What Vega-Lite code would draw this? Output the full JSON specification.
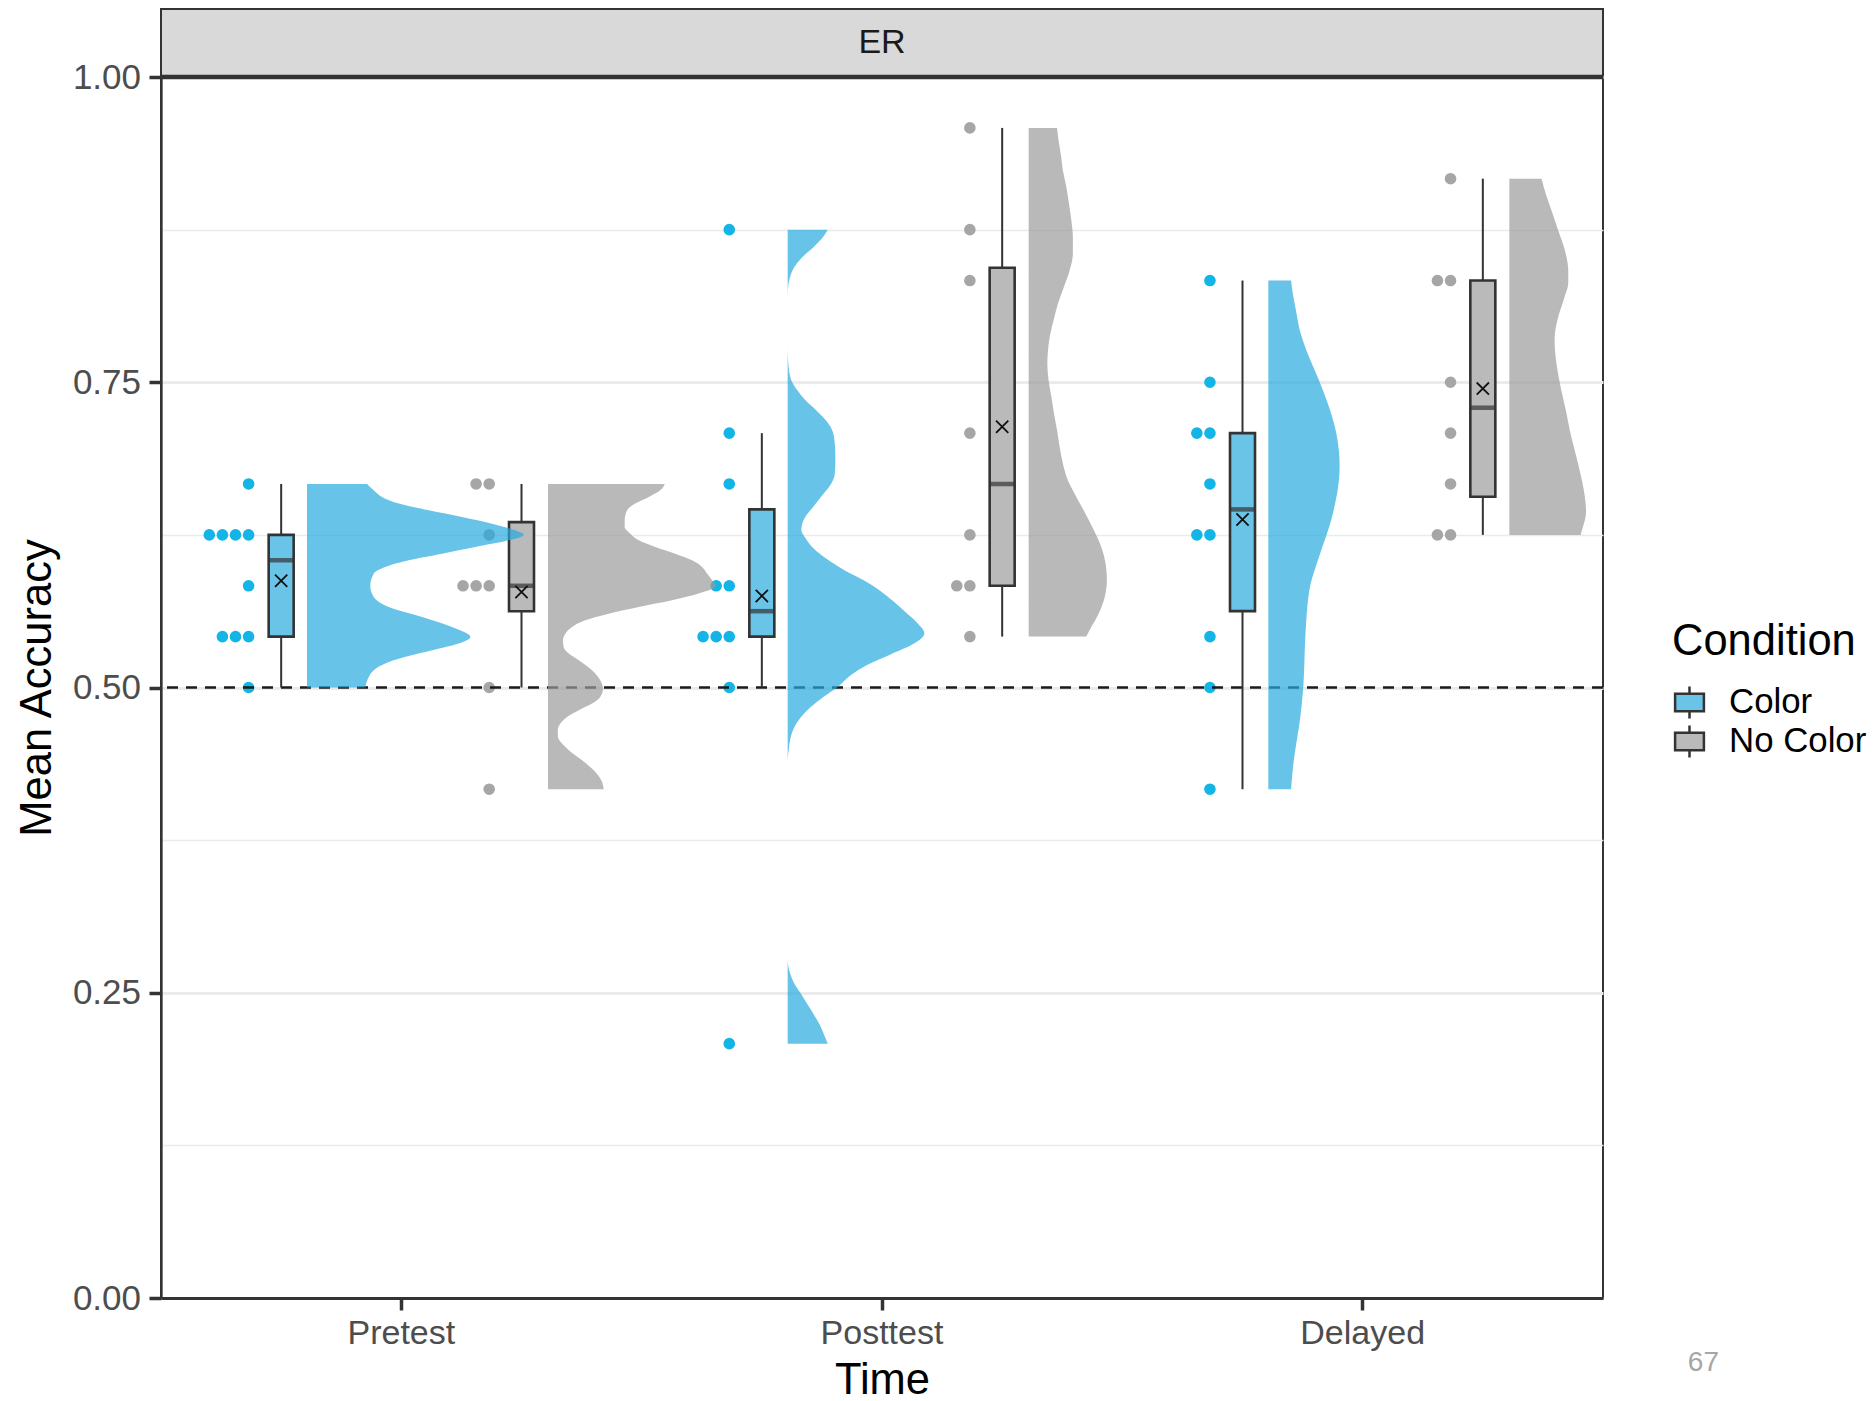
{
  "$schema": "https://vega.github.io/schema/vega-lite/v6.json",
  "background": "white",
  "padding": {"left": 14, "top": 8, "right": 6, "bottom": 0},
  "config": {"font": "Liberation Sans"},
  "title": {"text": "67", "orient": "bottom", "anchor": "end", "frame": "group", "fontSize": 28, "fontWeight": "normal", "color": "#A6A6A6", "dx": 116, "dy": -54, "offset": 0},
  "datasets": {
    "points": [
      {"Time":"Pretest","Condition":"Color","acc":0.6667},{"Time":"Pretest","Condition":"Color","acc":0.625},{"Time":"Pretest","Condition":"Color","acc":0.625},{"Time":"Pretest","Condition":"Color","acc":0.625},{"Time":"Pretest","Condition":"Color","acc":0.625},{"Time":"Pretest","Condition":"Color","acc":0.5833},{"Time":"Pretest","Condition":"Color","acc":0.5417},{"Time":"Pretest","Condition":"Color","acc":0.5417},{"Time":"Pretest","Condition":"Color","acc":0.5417},{"Time":"Pretest","Condition":"Color","acc":0.5},
      {"Time":"Pretest","Condition":"No Color","acc":0.6667},{"Time":"Pretest","Condition":"No Color","acc":0.6667},{"Time":"Pretest","Condition":"No Color","acc":0.625},{"Time":"Pretest","Condition":"No Color","acc":0.5833},{"Time":"Pretest","Condition":"No Color","acc":0.5833},{"Time":"Pretest","Condition":"No Color","acc":0.5833},{"Time":"Pretest","Condition":"No Color","acc":0.5},{"Time":"Pretest","Condition":"No Color","acc":0.4167},
      {"Time":"Posttest","Condition":"Color","acc":0.875},{"Time":"Posttest","Condition":"Color","acc":0.7083},{"Time":"Posttest","Condition":"Color","acc":0.6667},{"Time":"Posttest","Condition":"Color","acc":0.5833},{"Time":"Posttest","Condition":"Color","acc":0.5833},{"Time":"Posttest","Condition":"Color","acc":0.5417},{"Time":"Posttest","Condition":"Color","acc":0.5417},{"Time":"Posttest","Condition":"Color","acc":0.5417},{"Time":"Posttest","Condition":"Color","acc":0.5},{"Time":"Posttest","Condition":"Color","acc":0.2083},
      {"Time":"Posttest","Condition":"No Color","acc":0.9583},{"Time":"Posttest","Condition":"No Color","acc":0.875},{"Time":"Posttest","Condition":"No Color","acc":0.8333},{"Time":"Posttest","Condition":"No Color","acc":0.7083},{"Time":"Posttest","Condition":"No Color","acc":0.625},{"Time":"Posttest","Condition":"No Color","acc":0.5833},{"Time":"Posttest","Condition":"No Color","acc":0.5833},{"Time":"Posttest","Condition":"No Color","acc":0.5417},
      {"Time":"Delayed","Condition":"Color","acc":0.8333},{"Time":"Delayed","Condition":"Color","acc":0.75},{"Time":"Delayed","Condition":"Color","acc":0.7083},{"Time":"Delayed","Condition":"Color","acc":0.7083},{"Time":"Delayed","Condition":"Color","acc":0.6667},{"Time":"Delayed","Condition":"Color","acc":0.625},{"Time":"Delayed","Condition":"Color","acc":0.625},{"Time":"Delayed","Condition":"Color","acc":0.5417},{"Time":"Delayed","Condition":"Color","acc":0.5},{"Time":"Delayed","Condition":"Color","acc":0.4167},
      {"Time":"Delayed","Condition":"No Color","acc":0.9167},{"Time":"Delayed","Condition":"No Color","acc":0.8333},{"Time":"Delayed","Condition":"No Color","acc":0.8333},{"Time":"Delayed","Condition":"No Color","acc":0.75},{"Time":"Delayed","Condition":"No Color","acc":0.7083},{"Time":"Delayed","Condition":"No Color","acc":0.6667},{"Time":"Delayed","Condition":"No Color","acc":0.625},{"Time":"Delayed","Condition":"No Color","acc":0.625}
    ],
    "density": [
      {"Time":"Pretest","Condition":"Color","acc":0.6667,"dens":0.277},{"Time":"Pretest","Condition":"Color","acc":0.6615,"dens":0.308},{"Time":"Pretest","Condition":"Color","acc":0.656,"dens":0.346},{"Time":"Pretest","Condition":"Color","acc":0.6506,"dens":0.423},{"Time":"Pretest","Condition":"Color","acc":0.6451,"dens":0.562},{"Time":"Pretest","Condition":"Color","acc":0.6396,"dens":0.715},{"Time":"Pretest","Condition":"Color","acc":0.6342,"dens":0.854},{"Time":"Pretest","Condition":"Color","acc":0.6287,"dens":0.961},{"Time":"Pretest","Condition":"Color","acc":0.625,"dens":1.0},{"Time":"Pretest","Condition":"Color","acc":0.6205,"dens":0.931},{"Time":"Pretest","Condition":"Color","acc":0.6151,"dens":0.777},{"Time":"Pretest","Condition":"Color","acc":0.6096,"dens":0.623},{"Time":"Pretest","Condition":"Color","acc":0.6042,"dens":0.469},{"Time":"Pretest","Condition":"Color","acc":0.5987,"dens":0.361},{"Time":"Pretest","Condition":"Color","acc":0.5933,"dens":0.308},{"Time":"Pretest","Condition":"Color","acc":0.5829,"dens":0.292},{"Time":"Pretest","Condition":"Color","acc":0.5741,"dens":0.308},{"Time":"Pretest","Condition":"Color","acc":0.566,"dens":0.377},{"Time":"Pretest","Condition":"Color","acc":0.5578,"dens":0.531},{"Time":"Pretest","Condition":"Color","acc":0.5496,"dens":0.669},{"Time":"Pretest","Condition":"Color","acc":0.5414,"dens":0.754},{"Time":"Pretest","Condition":"Color","acc":0.536,"dens":0.7},{"Time":"Pretest","Condition":"Color","acc":0.5305,"dens":0.577},{"Time":"Pretest","Condition":"Color","acc":0.5251,"dens":0.454},{"Time":"Pretest","Condition":"Color","acc":0.5196,"dens":0.361},{"Time":"Pretest","Condition":"Color","acc":0.5141,"dens":0.308},{"Time":"Pretest","Condition":"Color","acc":0.5086,"dens":0.285},{"Time":"Pretest","Condition":"Color","acc":0.5,"dens":0.269},
      {"Time":"Pretest","Condition":"No Color","acc":0.6667,"dens":0.539},{"Time":"Pretest","Condition":"No Color","acc":0.6615,"dens":0.518},{"Time":"Pretest","Condition":"No Color","acc":0.656,"dens":0.465},{"Time":"Pretest","Condition":"No Color","acc":0.6506,"dens":0.403},{"Time":"Pretest","Condition":"No Color","acc":0.6451,"dens":0.365},{"Time":"Pretest","Condition":"No Color","acc":0.637,"dens":0.354},{"Time":"Pretest","Condition":"No Color","acc":0.6315,"dens":0.354},{"Time":"Pretest","Condition":"No Color","acc":0.626,"dens":0.38},{"Time":"Pretest","Condition":"No Color","acc":0.6205,"dens":0.419},{"Time":"Pretest","Condition":"No Color","acc":0.6151,"dens":0.495},{"Time":"Pretest","Condition":"No Color","acc":0.6096,"dens":0.587},{"Time":"Pretest","Condition":"No Color","acc":0.6042,"dens":0.665},{"Time":"Pretest","Condition":"No Color","acc":0.5987,"dens":0.711},{"Time":"Pretest","Condition":"No Color","acc":0.5933,"dens":0.734},{"Time":"Pretest","Condition":"No Color","acc":0.5878,"dens":0.757},{"Time":"Pretest","Condition":"No Color","acc":0.5833,"dens":0.775},{"Time":"Pretest","Condition":"No Color","acc":0.5769,"dens":0.695},{"Time":"Pretest","Condition":"No Color","acc":0.5714,"dens":0.572},{"Time":"Pretest","Condition":"No Color","acc":0.566,"dens":0.419},{"Time":"Pretest","Condition":"No Color","acc":0.5605,"dens":0.28},{"Time":"Pretest","Condition":"No Color","acc":0.555,"dens":0.172},{"Time":"Pretest","Condition":"No Color","acc":0.5496,"dens":0.111},{"Time":"Pretest","Condition":"No Color","acc":0.5441,"dens":0.08},{"Time":"Pretest","Condition":"No Color","acc":0.5387,"dens":0.069},{"Time":"Pretest","Condition":"No Color","acc":0.5332,"dens":0.072},{"Time":"Pretest","Condition":"No Color","acc":0.5278,"dens":0.096},{"Time":"Pretest","Condition":"No Color","acc":0.5223,"dens":0.142},{"Time":"Pretest","Condition":"No Color","acc":0.5141,"dens":0.203},{"Time":"Pretest","Condition":"No Color","acc":0.5059,"dens":0.241},{"Time":"Pretest","Condition":"No Color","acc":0.4991,"dens":0.254},{"Time":"Pretest","Condition":"No Color","acc":0.4923,"dens":0.241},{"Time":"Pretest","Condition":"No Color","acc":0.4868,"dens":0.203},{"Time":"Pretest","Condition":"No Color","acc":0.4814,"dens":0.142},{"Time":"Pretest","Condition":"No Color","acc":0.4759,"dens":0.088},{"Time":"Pretest","Condition":"No Color","acc":0.4705,"dens":0.057},{"Time":"Pretest","Condition":"No Color","acc":0.465,"dens":0.045},{"Time":"Pretest","Condition":"No Color","acc":0.4595,"dens":0.046},{"Time":"Pretest","Condition":"No Color","acc":0.4541,"dens":0.065},{"Time":"Pretest","Condition":"No Color","acc":0.4486,"dens":0.096},{"Time":"Pretest","Condition":"No Color","acc":0.4404,"dens":0.157},{"Time":"Pretest","Condition":"No Color","acc":0.4322,"dens":0.211},{"Time":"Pretest","Condition":"No Color","acc":0.4241,"dens":0.246},{"Time":"Pretest","Condition":"No Color","acc":0.4167,"dens":0.257},
      {"Time":"Posttest","Condition":"Color","acc":0.875,"dens":0.185},{"Time":"Posttest","Condition":"Color","acc":0.8695,"dens":0.166},{"Time":"Posttest","Condition":"Color","acc":0.8608,"dens":0.12},{"Time":"Posttest","Condition":"Color","acc":0.8522,"dens":0.066},{"Time":"Posttest","Condition":"Color","acc":0.8435,"dens":0.028},{"Time":"Posttest","Condition":"Color","acc":0.8349,"dens":0.009},{"Time":"Posttest","Condition":"Color","acc":0.8262,"dens":0.001},{"Time":"Posttest","Condition":"Color","acc":0.8175,"dens":0},{"Time":"Posttest","Condition":"Color","acc":0.7785,"dens":0},{"Time":"Posttest","Condition":"Color","acc":0.7655,"dens":0.003},{"Time":"Posttest","Condition":"Color","acc":0.7525,"dens":0.015},{"Time":"Posttest","Condition":"Color","acc":0.7438,"dens":0.043},{"Time":"Posttest","Condition":"Color","acc":0.7352,"dens":0.082},{"Time":"Posttest","Condition":"Color","acc":0.7265,"dens":0.135},{"Time":"Posttest","Condition":"Color","acc":0.7178,"dens":0.181},{"Time":"Posttest","Condition":"Color","acc":0.7091,"dens":0.209},{"Time":"Posttest","Condition":"Color","acc":0.7005,"dens":0.217},{"Time":"Posttest","Condition":"Color","acc":0.6918,"dens":0.22},{"Time":"Posttest","Condition":"Color","acc":0.6832,"dens":0.22},{"Time":"Posttest","Condition":"Color","acc":0.6745,"dens":0.217},{"Time":"Posttest","Condition":"Color","acc":0.6658,"dens":0.197},{"Time":"Posttest","Condition":"Color","acc":0.6571,"dens":0.158},{"Time":"Posttest","Condition":"Color","acc":0.6485,"dens":0.12},{"Time":"Posttest","Condition":"Color","acc":0.6398,"dens":0.082},{"Time":"Posttest","Condition":"Color","acc":0.6333,"dens":0.066},{"Time":"Posttest","Condition":"Color","acc":0.629,"dens":0.063},{"Time":"Posttest","Condition":"Color","acc":0.6225,"dens":0.082},{"Time":"Posttest","Condition":"Color","acc":0.6138,"dens":0.12},{"Time":"Posttest","Condition":"Color","acc":0.6052,"dens":0.181},{"Time":"Posttest","Condition":"Color","acc":0.5965,"dens":0.258},{"Time":"Posttest","Condition":"Color","acc":0.5878,"dens":0.351},{"Time":"Posttest","Condition":"Color","acc":0.5791,"dens":0.428},{"Time":"Posttest","Condition":"Color","acc":0.5704,"dens":0.489},{"Time":"Posttest","Condition":"Color","acc":0.5618,"dens":0.543},{"Time":"Posttest","Condition":"Color","acc":0.5531,"dens":0.597},{"Time":"Posttest","Condition":"Color","acc":0.5445,"dens":0.631},{"Time":"Posttest","Condition":"Color","acc":0.5358,"dens":0.581},{"Time":"Posttest","Condition":"Color","acc":0.5271,"dens":0.474},{"Time":"Posttest","Condition":"Color","acc":0.5185,"dens":0.366},{"Time":"Posttest","Condition":"Color","acc":0.5098,"dens":0.289},{"Time":"Posttest","Condition":"Color","acc":0.5011,"dens":0.235},{"Time":"Posttest","Condition":"Color","acc":0.4925,"dens":0.166},{"Time":"Posttest","Condition":"Color","acc":0.4838,"dens":0.105},{"Time":"Posttest","Condition":"Color","acc":0.4752,"dens":0.059},{"Time":"Posttest","Condition":"Color","acc":0.4665,"dens":0.028},{"Time":"Posttest","Condition":"Color","acc":0.4578,"dens":0.012},{"Time":"Posttest","Condition":"Color","acc":0.4491,"dens":0.005},{"Time":"Posttest","Condition":"Color","acc":0.4404,"dens":0},{"Time":"Posttest","Condition":"Color","acc":0.2779,"dens":0},{"Time":"Posttest","Condition":"Color","acc":0.2671,"dens":0.009},{"Time":"Posttest","Condition":"Color","acc":0.2584,"dens":0.028},{"Time":"Posttest","Condition":"Color","acc":0.2498,"dens":0.059},{"Time":"Posttest","Condition":"Color","acc":0.2411,"dens":0.089},{"Time":"Posttest","Condition":"Color","acc":0.2324,"dens":0.12},{"Time":"Posttest","Condition":"Color","acc":0.2237,"dens":0.148},{"Time":"Posttest","Condition":"Color","acc":0.2151,"dens":0.169},{"Time":"Posttest","Condition":"Color","acc":0.2083,"dens":0.185},
      {"Time":"Posttest","Condition":"No Color","acc":0.9583,"dens":0.131},{"Time":"Posttest","Condition":"No Color","acc":0.948,"dens":0.138},{"Time":"Posttest","Condition":"No Color","acc":0.9371,"dens":0.148},{"Time":"Posttest","Condition":"No Color","acc":0.9234,"dens":0.158},{"Time":"Posttest","Condition":"No Color","acc":0.9098,"dens":0.174},{"Time":"Posttest","Condition":"No Color","acc":0.8962,"dens":0.186},{"Time":"Posttest","Condition":"No Color","acc":0.8825,"dens":0.197},{"Time":"Posttest","Condition":"No Color","acc":0.8689,"dens":0.204},{"Time":"Posttest","Condition":"No Color","acc":0.8553,"dens":0.204},{"Time":"Posttest","Condition":"No Color","acc":0.8416,"dens":0.189},{"Time":"Posttest","Condition":"No Color","acc":0.8279,"dens":0.162},{"Time":"Posttest","Condition":"No Color","acc":0.8143,"dens":0.135},{"Time":"Posttest","Condition":"No Color","acc":0.8007,"dens":0.115},{"Time":"Posttest","Condition":"No Color","acc":0.787,"dens":0.097},{"Time":"Posttest","Condition":"No Color","acc":0.7734,"dens":0.088},{"Time":"Posttest","Condition":"No Color","acc":0.7652,"dens":0.086},{"Time":"Posttest","Condition":"No Color","acc":0.7515,"dens":0.092},{"Time":"Posttest","Condition":"No Color","acc":0.7379,"dens":0.105},{"Time":"Posttest","Condition":"No Color","acc":0.7243,"dens":0.117},{"Time":"Posttest","Condition":"No Color","acc":0.7106,"dens":0.131},{"Time":"Posttest","Condition":"No Color","acc":0.6969,"dens":0.143},{"Time":"Posttest","Condition":"No Color","acc":0.6833,"dens":0.158},{"Time":"Posttest","Condition":"No Color","acc":0.6697,"dens":0.181},{"Time":"Posttest","Condition":"No Color","acc":0.656,"dens":0.22},{"Time":"Posttest","Condition":"No Color","acc":0.6424,"dens":0.262},{"Time":"Posttest","Condition":"No Color","acc":0.6287,"dens":0.301},{"Time":"Posttest","Condition":"No Color","acc":0.6151,"dens":0.335},{"Time":"Posttest","Condition":"No Color","acc":0.6015,"dens":0.355},{"Time":"Posttest","Condition":"No Color","acc":0.5878,"dens":0.361},{"Time":"Posttest","Condition":"No Color","acc":0.5741,"dens":0.351},{"Time":"Posttest","Condition":"No Color","acc":0.5605,"dens":0.323},{"Time":"Posttest","Condition":"No Color","acc":0.5496,"dens":0.289},{"Time":"Posttest","Condition":"No Color","acc":0.5417,"dens":0.266},
      {"Time":"Delayed","Condition":"Color","acc":0.8333,"dens":0.105},{"Time":"Delayed","Condition":"Color","acc":0.8248,"dens":0.111},{"Time":"Delayed","Condition":"Color","acc":0.8084,"dens":0.128},{"Time":"Delayed","Condition":"Color","acc":0.7919,"dens":0.146},{"Time":"Delayed","Condition":"Color","acc":0.7754,"dens":0.177},{"Time":"Delayed","Condition":"Color","acc":0.759,"dens":0.216},{"Time":"Delayed","Condition":"Color","acc":0.7425,"dens":0.254},{"Time":"Delayed","Condition":"Color","acc":0.7261,"dens":0.287},{"Time":"Delayed","Condition":"Color","acc":0.7097,"dens":0.312},{"Time":"Delayed","Condition":"Color","acc":0.6932,"dens":0.326},{"Time":"Delayed","Condition":"Color","acc":0.6801,"dens":0.329},{"Time":"Delayed","Condition":"Color","acc":0.6669,"dens":0.324},{"Time":"Delayed","Condition":"Color","acc":0.6504,"dens":0.308},{"Time":"Delayed","Condition":"Color","acc":0.634,"dens":0.285},{"Time":"Delayed","Condition":"Color","acc":0.6176,"dens":0.254},{"Time":"Delayed","Condition":"Color","acc":0.6011,"dens":0.223},{"Time":"Delayed","Condition":"Color","acc":0.5847,"dens":0.195},{"Time":"Delayed","Condition":"Color","acc":0.5682,"dens":0.181},{"Time":"Delayed","Condition":"Color","acc":0.5518,"dens":0.174},{"Time":"Delayed","Condition":"Color","acc":0.5353,"dens":0.169},{"Time":"Delayed","Condition":"Color","acc":0.5189,"dens":0.166},{"Time":"Delayed","Condition":"Color","acc":0.5024,"dens":0.162},{"Time":"Delayed","Condition":"Color","acc":0.486,"dens":0.154},{"Time":"Delayed","Condition":"Color","acc":0.4696,"dens":0.143},{"Time":"Delayed","Condition":"Color","acc":0.4531,"dens":0.128},{"Time":"Delayed","Condition":"Color","acc":0.4367,"dens":0.115},{"Time":"Delayed","Condition":"Color","acc":0.4167,"dens":0.105},
      {"Time":"Delayed","Condition":"No Color","acc":0.9167,"dens":0.149},{"Time":"Delayed","Condition":"No Color","acc":0.9037,"dens":0.169},{"Time":"Delayed","Condition":"No Color","acc":0.8905,"dens":0.195},{"Time":"Delayed","Condition":"No Color","acc":0.8741,"dens":0.226},{"Time":"Delayed","Condition":"No Color","acc":0.8576,"dens":0.257},{"Time":"Delayed","Condition":"No Color","acc":0.8412,"dens":0.272},{"Time":"Delayed","Condition":"No Color","acc":0.8314,"dens":0.272},{"Time":"Delayed","Condition":"No Color","acc":0.8182,"dens":0.252},{"Time":"Delayed","Condition":"No Color","acc":0.8017,"dens":0.223},{"Time":"Delayed","Condition":"No Color","acc":0.7853,"dens":0.209},{"Time":"Delayed","Condition":"No Color","acc":0.7754,"dens":0.211},{"Time":"Delayed","Condition":"No Color","acc":0.759,"dens":0.223},{"Time":"Delayed","Condition":"No Color","acc":0.7425,"dens":0.241},{"Time":"Delayed","Condition":"No Color","acc":0.7261,"dens":0.262},{"Time":"Delayed","Condition":"No Color","acc":0.7097,"dens":0.28},{"Time":"Delayed","Condition":"No Color","acc":0.6932,"dens":0.303},{"Time":"Delayed","Condition":"No Color","acc":0.6768,"dens":0.326},{"Time":"Delayed","Condition":"No Color","acc":0.6603,"dens":0.345},{"Time":"Delayed","Condition":"No Color","acc":0.6439,"dens":0.354},{"Time":"Delayed","Condition":"No Color","acc":0.6373,"dens":0.349},{"Time":"Delayed","Condition":"No Color","acc":0.6307,"dens":0.338},{"Time":"Delayed","Condition":"No Color","acc":0.625,"dens":0.329}
    ],
    "refs": [{"line": "chance", "acc": 0.5}, {"line": "top", "acc": 1}]
  },
  "vconcat": [
    {
      "width": 1442,
      "height": 68,
      "data": {"values": [{"panel": "ER"}]},
      "view": {"fill": "#D9D9D9", "stroke": "#333333", "strokeWidth": 2},
      "mark": {"type": "text", "fontSize": 34, "color": "#1A1A1A"},
      "encoding": {"text": {"field": "panel", "type": "nominal"}}
    },
    {
      "width": 1442,
      "height": 1221,
      "view": {"stroke": "#333333", "strokeWidth": 2},
      "resolve": {"scale": {"xOffset": "independent"}},
      "layer": [
        {
          "data": {"name": "points"},
          "transform": [
            {"filter": {"field": "Condition", "equal": "Color"}},
            {"window": [{"op": "row_number", "as": "k"}], "groupby": ["Time", "acc"]}
          ],
          "mark": {"type": "circle", "size": 135, "color": "#12B5E6", "opacity": 1},
          "encoding": {
            "x": {"field": "Time", "type": "nominal", "title": "Time",
              "scale": {"type": "band", "domain": ["Pretest", "Posttest", "Delayed"], "paddingInner": 0, "paddingOuter": 0},
              "axis": {"labelAngle": 0, "labelFontSize": 34, "labelColor": "#4D4D4D", "labelPadding": 6.5, "tickSize": 12, "tickWidth": 3.5, "tickColor": "#333333", "domainColor": "#333333", "domainWidth": 3, "titleFontSize": 43.5, "titleFontWeight": "normal", "titleColor": "#000000", "titlePadding": 9, "grid": false}},
            "xOffset": {"field": "k", "type": "quantitative", "scale": {"domain": [1, 2], "range": [87.6, 74.5], "zero": false, "nice": false}},
            "y": {"field": "acc", "type": "quantitative", "title": "Mean Accuracy",
              "scale": {"domain": [0, 1], "nice": false, "zero": true},
              "axis": {
                "values": [0, 0.125, 0.25, 0.375, 0.5, 0.625, 0.75, 0.875, 1],
                "labelExpr": "abs(datum.value*4 - round(datum.value*4)) < 0.001 ? format(datum.value, '.2f') : ''",
                "grid": true, "gridColor": "#EBEBEB",
                "gridWidth": {"condition": {"test": "abs(datum.value*4 - round(datum.value*4)) < 0.001", "value": 3.2}, "value": 1.6},
                "tickOpacity": {"condition": {"test": "abs(datum.value*4 - round(datum.value*4)) < 0.001", "value": 1}, "value": 0},
                "tickSize": 12, "tickWidth": 3.5, "tickColor": "#333333",
                "domainColor": "#333333", "domainWidth": 2.3,
                "labelFontSize": 35, "labelColor": "#4D4D4D", "labelPadding": 8.5, "labelOverlap": false,
                "titleFontSize": 43.5, "titleFontWeight": "normal", "titleColor": "#000000", "titlePadding": 13
              }}
          }
        },
        {
          "data": {"name": "points"},
          "transform": [
            {"filter": {"field": "Condition", "equal": "No Color"}},
            {"window": [{"op": "row_number", "as": "k"}], "groupby": ["Time", "acc"]}
          ],
          "mark": {"type": "circle", "size": 135, "color": "#A6A6A6", "opacity": 1},
          "encoding": {
            "x": {"field": "Time", "type": "nominal", "title": "Time", "scale": {"type": "band", "domain": ["Pretest", "Posttest", "Delayed"], "paddingInner": 0, "paddingOuter": 0}},
            "xOffset": {"field": "k", "type": "quantitative", "scale": {"domain": [1, 2], "range": [328.2, 315.1], "zero": false, "nice": false}},
            "y": {"field": "acc", "type": "quantitative", "title": "Mean Accuracy"}
          }
        },
        {
          "data": {"name": "refs"},
          "transform": [{"filter": {"field": "line", "equal": "chance"}}],
          "mark": {"type": "rule", "strokeDash": [11, 8], "strokeWidth": 2.5, "color": "#1A1A1A"},
          "encoding": {"y": {"field": "acc", "type": "quantitative", "title": "Mean Accuracy"}}
        },
        {
          "data": {"name": "points"},
          "mark": {"type": "boxplot", "extent": 1.5, "size": 25, "outliers": false,
            "box": {"stroke": "#333333", "strokeWidth": 2.6},
            "median": {"color": "#333333", "thickness": 4.5},
            "rule": {"color": "#333333", "strokeWidth": 2}},
          "encoding": {
            "x": {"field": "Time", "type": "nominal", "title": "Time", "scale": {"type": "band", "domain": ["Pretest", "Posttest", "Delayed"], "paddingInner": 0, "paddingOuter": 0}},
            "xOffset": {"field": "Condition", "type": "nominal", "scale": {"type": "band", "domain": ["Color", "No Color"], "paddingInner": 0, "paddingOuter": 0}},
            "y": {"field": "acc", "type": "quantitative", "title": "Mean Accuracy"},
            "color": {"field": "Condition", "type": "nominal",
              "scale": {"domain": ["Color", "No Color"], "range": ["#69C4E8", "#BABABA"]},
              "legend": {"title": "Condition", "orient": "none", "legendX": 1511, "legendY": 612, "padding": 0,
                "titleFontSize": 43.5, "titleFontWeight": "normal", "titleColor": "#000000", "titlePadding": 20.5, "titleLimit": 500,
                "labelFontSize": 34.8, "labelColor": "#000000", "labelOffset": 22, "labelLimit": 500,
                "symbolType": "M-0.9,-0.55H0.9V0.55H-0.9Z M0,-1V-0.55 M0,0.55V1", "symbolSize": 1024,
                "symbolStrokeColor": "#333333", "symbolStrokeWidth": 2.5, "symbolOpacity": 1, "rowPadding": -5.5}}
          }
        },
        {
          "data": {"name": "points"},
          "mark": {"type": "point", "shape": "M-1,-1L1,1M-1,1L1,-1", "size": 150, "filled": false, "stroke": "#111111", "strokeWidth": 1.8, "opacity": 1},
          "encoding": {
            "x": {"field": "Time", "type": "nominal", "title": "Time", "scale": {"type": "band", "domain": ["Pretest", "Posttest", "Delayed"], "paddingInner": 0, "paddingOuter": 0}},
            "xOffset": {"field": "Condition", "type": "nominal", "scale": {"type": "band", "domain": ["Color", "No Color"], "paddingInner": 0, "paddingOuter": 0}},
            "y": {"aggregate": "mean", "field": "acc", "type": "quantitative", "title": "Mean Accuracy"}
          }
        },
        {
          "data": {"name": "density"},
          "transform": [{"filter": {"field": "Condition", "equal": "Color"}}],
          "mark": {"type": "area", "orient": "horizontal", "interpolate": "monotone", "color": "#27A9DD", "opacity": 0.7, "x2Offset": 146},
          "encoding": {
            "x": {"field": "Time", "type": "nominal", "title": "Time", "scale": {"type": "band", "domain": ["Pretest", "Posttest", "Delayed"], "paddingInner": 0, "paddingOuter": 0}},
            "xOffset": {"field": "dens", "type": "quantitative", "scale": {"domain": [0, 1], "range": [146, 362.7], "zero": false, "nice": false}},
            "x2": {"field": "Time", "bandPosition": 0},
            "y": {"field": "acc", "type": "quantitative", "title": "Mean Accuracy", "stack": null},
            "detail": {"field": "Time", "type": "nominal"}
          }
        },
        {
          "data": {"name": "density"},
          "transform": [{"filter": {"field": "Condition", "equal": "No Color"}}],
          "mark": {"type": "area", "orient": "horizontal", "interpolate": "monotone", "color": "#9B9B9B", "opacity": 0.7, "x2Offset": 387},
          "encoding": {
            "x": {"field": "Time", "type": "nominal", "title": "Time", "scale": {"type": "band", "domain": ["Pretest", "Posttest", "Delayed"], "paddingInner": 0, "paddingOuter": 0}},
            "xOffset": {"field": "dens", "type": "quantitative", "scale": {"domain": [0, 1], "range": [387, 603.7], "zero": false, "nice": false}},
            "x2": {"field": "Time", "bandPosition": 0},
            "y": {"field": "acc", "type": "quantitative", "title": "Mean Accuracy", "stack": null},
            "detail": {"field": "Time", "type": "nominal"}
          }
        },
        {
          "data": {"name": "refs"},
          "transform": [{"filter": {"field": "line", "equal": "top"}}],
          "mark": {"type": "rule", "strokeWidth": 4.5, "color": "#333333"},
          "encoding": {"y": {"field": "acc", "type": "quantitative", "title": "Mean Accuracy"}}
        }
      ]
    }
  ],
  "spacing": 0,
  "bounds": "flush"
}
